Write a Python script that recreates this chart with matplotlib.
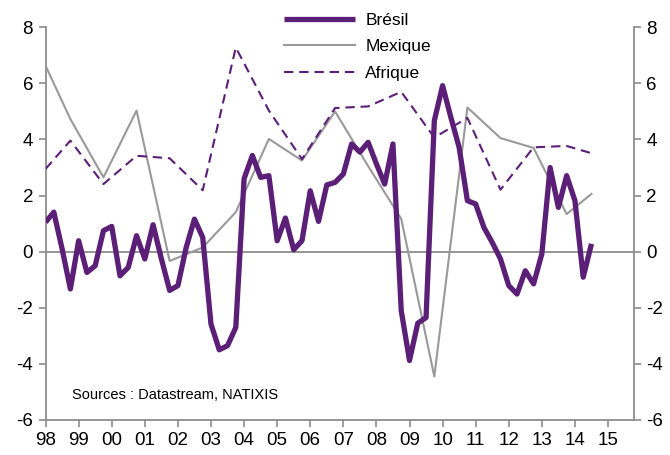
import numpy as np
import matplotlib
matplotlib.use('Agg')
import matplotlib.pyplot as plt

plt.rcParams['font.family'] = ['Liberation Sans', 'DejaVu Sans']
plt.rcParams['axes.unicode_minus'] = False

# Brésil : données trimestrielles à partir de 1998T1
bresil = [1.05, 1.41, 0.1, -1.33, 0.39, -0.74, -0.5, 0.75, 0.9, -0.86,
          -0.56, 0.57, -0.26, 0.96, -0.25, -1.38, -1.21, 0.15, 1.16, 0.51,
          -2.58, -3.5, -3.35, -2.7, 2.6, 3.43, 2.65, 2.71, 0.39, 1.2,
          0.07, 0.39, 2.17, 1.08, 2.38, 2.47, 2.77, 3.84, 3.55, 3.9,
          3.13, 2.41, 3.84, -2.1, -3.88, -2.55, -2.35, 4.67, 5.92, 4.79,
          3.72, 1.82, 1.7, 0.86, 0.33, -0.26, -1.21, -1.51, -0.68, -1.15,
          -0.08, 3.0, 1.58, 2.71, 1.82, -0.91, 0.28]
bresil_dates = 1998 + 0.25 * np.arange(len(bresil))

# Mexique et Afrique : données annuelles (T4)
annuel_dates = [1998.0, 1998.75, 1999.75, 2000.75, 2001.75, 2002.75, 2003.75,
                2004.75, 2005.75, 2006.75, 2007.75, 2008.75, 2009.75,
                2010.75, 2011.75, 2012.75, 2013.75, 2014.5]
mexique = [6.63, 4.73, 2.65, 5.03, -0.33, 0.15, 1.41, 4.02, 3.25, 5.0,
           3.05, 1.17, -4.45, 5.14, 4.05, 3.7, 1.34, 2.06]
afrique = [2.95, 3.96, 2.41, 3.42, 3.33, 2.19, 7.28, 5.03, 3.3, 5.12,
           5.18, 5.7, 4.07, 4.77, 2.21, 3.72, 3.77, 3.51]

annees = list(range(1998, 2016))
etiquettes = ['%02d' % (a % 100) for a in annees]

violet = '#5b1f78'
gris = '#999999'
axe = '#8c8c8c'

fig = plt.figure(figsize=(6.7, 4.55), dpi=100)
ax = fig.add_axes([0.068, 0.077, 0.878, 0.863])

ax.axhline(0, color=axe, lw=1.3, zorder=1)
ax.plot(bresil_dates, bresil, color=violet, lw=3.8, label=u'Brésil',
        solid_joinstyle='round', solid_capstyle='butt', zorder=4)
ax.plot(annuel_dates, mexique, color=gris, lw=1.5, label='Mexique', zorder=3)
ax.plot(annuel_dates, afrique, color=violet, lw=1.5, ls=(0, (4.5, 2.8)),
        label='Afrique', zorder=3)

ax.set_xlim(1998, 2015.78)
ax.set_ylim(-6, 8)
ax.set_yticks(range(-6, 9, 2))
ax.set_xticks(annees)
ax.set_xticklabels(etiquettes)

ax.spines['top'].set_visible(False)
for s in ['left', 'right', 'bottom']:
    ax.spines[s].set_color(axe)
    ax.spines[s].set_linewidth(1.3)

ax.tick_params(axis='both', colors=axe, labelcolor='black', labelsize=13.5,
               length=5, width=1.2, direction='out')
ax.tick_params(axis='y', left=True, right=True, labelleft=True,
               labelright=True, pad=4)
ax.tick_params(axis='x', pad=4)

ax.text(1998.8, -5.25, 'Sources : Datastream, NATIXIS', fontsize=10.5)

ax.legend(loc='upper center', bbox_to_anchor=(0.53, 1.077), frameon=False,
          fontsize=12.5, handlelength=4.1, labelspacing=0.66,
          handletextpad=0.6)

plt.savefig('out.png', dpi=100)
